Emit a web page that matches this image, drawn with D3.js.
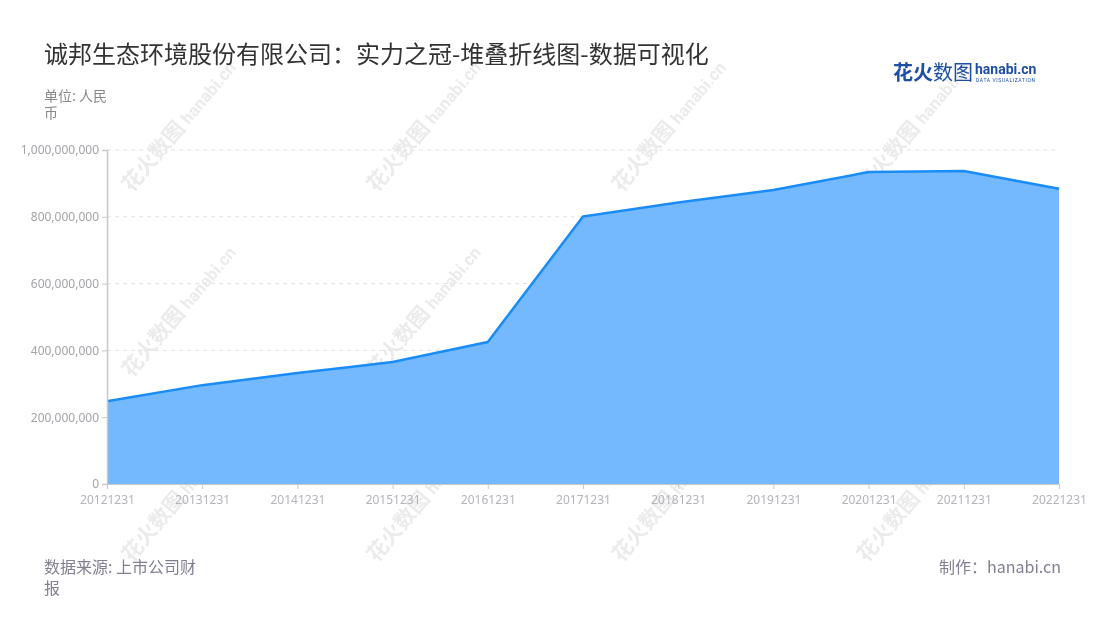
<!DOCTYPE html>
<html>
<head>
<meta charset="utf-8">
<script src="https://cdn.jsdelivr.net/npm/d3@7"></script>
<style>
  body { margin: 0; background: #fff; }
  svg { font-family: "Noto Sans CJK SC", "Noto Sans", sans-serif; }
</style>
</head>
<body>
<div id="chart"></div>
<script>
// 诚邦生态环境股份有限公司 - 实力之冠
var years = ["20121231", "20131231", "20141231", "20151231", "20161231", "20171231",
  "20181231", "20191231", "20201231", "20211231", "20221231"];
var values = [248000000, 296000000, 332000000, 365000000, 425000000, 801000000,
  843000000, 880000000, 934000000, 937000000, 884000000];
var yTicks = [0, 200000000, 400000000, 600000000, 800000000, 1000000000];

var W = 1100, H = 620;
var margin = { top: 150, right: 41, bottom: 136, left: 107 };
var width = W - margin.left - margin.right;
var height = H - margin.top - margin.bottom;

var svg = d3.select("#chart").append("svg")
  .attr("width", W).attr("height", H);

// watermarks
var wmX = [180, 425, 670, 915], wmY = [127, 312, 497];
var wm = svg.append("g").attr("opacity", 0.12);
wmY.forEach(function (yy) {
  wmX.forEach(function (xx) {
    var t = wm.append("text")
      .attr("transform", "translate(" + xx + "," + yy + ")rotate(-50)")
      .attr("text-anchor", "middle")
      .attr("dy", "0.35em")
      .attr("fill", "#555");
    t.append("tspan").attr("font-size", 21).attr("font-weight", "bold").text("花火数图 ");
    t.append("tspan").attr("font-size", 17).attr("font-weight", "bold")
      .attr("font-family", "Roboto, sans-serif").text("hanabi.cn");
  });
});

var g = svg.append("g")
  .attr("transform", "translate(" + margin.left + "," + margin.top + ")");

var x = d3.scalePoint().domain(years).range([0, width]);
var y = d3.scaleLinear().domain([0, 1000000000]).range([height, 0]);

// grid
g.selectAll(".grid")
  .data(yTicks.slice(1))
  .enter()
  .append("line")
  .attr("x1", 0).attr("x2", width)
  .attr("y1", function (d) { return y(d); })
  .attr("y2", function (d) { return y(d); })
  .attr("stroke", "#e3e3e3")
  .attr("stroke-dasharray", "4,4");

var area = d3.area()
  .x(function (d, i) { return x(years[i]); })
  .y0(height)
  .y1(function (d) { return y(d); });

var line = d3.line()
  .x(function (d, i) { return x(years[i]); })
  .y(function (d) { return y(d); });

g.append("path").datum(values).attr("d", area).attr("fill", "#74b8fd");
g.append("path").datum(values).attr("d", line)
  .attr("fill", "none").attr("stroke", "#1a8cf7").attr("stroke-width", 2.5)
  .attr("stroke-linejoin", "round");

// axes
var yAxis = g.append("g")
  .call(d3.axisLeft(y).tickValues(yTicks).tickFormat(d3.format(",")).tickSize(5).tickPadding(3));
yAxis.select(".domain").attr("stroke", "#c8c8c8").attr("stroke-width", 1.5);
yAxis.selectAll(".tick line").attr("stroke", "#c8c8c8");
yAxis.selectAll("text").attr("fill", "#a3a3a8").attr("font-size", 12)
  .attr("font-family", "Noto Sans, sans-serif");

var xAxis = g.append("g")
  .attr("transform", "translate(0," + height + ")")
  .call(d3.axisBottom(x).tickSize(5).tickPadding(6));
xAxis.select(".domain").attr("stroke", "#c8c8c8");
xAxis.selectAll(".tick line").attr("stroke", "#c8c8c8");
xAxis.selectAll("text").attr("fill", "#b4b4bc").attr("font-size", 12)
  .attr("font-family", "Noto Sans, sans-serif");

// title and notes
svg.append("text").attr("x", 44).attr("y", 63)
  .attr("font-size", 24).attr("fill", "#333")
  .text("诚邦生态环境股份有限公司：实力之冠-堆叠折线图-数据可视化");

svg.append("text").attr("x", 44).attr("y", 101).attr("font-size", 14).attr("fill", "#888")
  .text("单位: 人民");
svg.append("text").attr("x", 44).attr("y", 118).attr("font-size", 14).attr("fill", "#888")
  .text("币");

svg.append("text").attr("x", 44).attr("y", 573).attr("font-size", 16).attr("fill", "#808090")
  .text("数据来源: 上市公司财");
svg.append("text").attr("x", 44).attr("y", 594).attr("font-size", 16).attr("fill", "#808090")
  .text("报");

svg.append("text").attr("x", 1061).attr("y", 573).attr("text-anchor", "end")
  .attr("font-size", 16).attr("fill", "#808090")
  .text("制作：hanabi.cn");

// logo
var logo = svg.append("g");
logo.append("text").attr("x", 893).attr("y", 80).attr("font-size", 20)
  .attr("font-weight", "bold").attr("fill", "#1d4fa5").text("花火");
logo.append("text").attr("x", 933).attr("y", 80).attr("font-size", 20)
  .attr("fill", "#1d4fa5").text("数图");
logo.append("text").attr("x", 975).attr("y", 74).attr("font-size", 14)
  .attr("font-weight", "bold").attr("font-family", "Roboto, sans-serif")
  .attr("fill", "#1d4fa5").text("hanabi.cn");
logo.append("text").attr("x", 976).attr("y", 82).attr("font-size", 5)
  .attr("font-family", "Roboto, sans-serif").attr("letter-spacing", 0.6)
  .attr("fill", "#1d4fa5").text("DATA VISUALIZATION");
</script>
</body>
</html>
